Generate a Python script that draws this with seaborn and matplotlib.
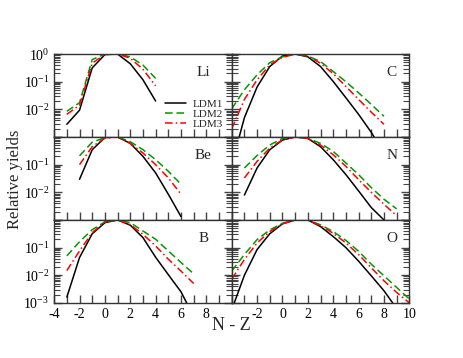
import numpy as np
import matplotlib
matplotlib.use('Agg')
import matplotlib.pyplot as plt
import seaborn as sns

# log10 of the relative yields
elements = ['Li', 'Be', 'B', 'C', 'N', 'O']

li_x = [-3, -2, -1, 0, 1, 2, 3, 4]
li_ldm1 = [-2.54, -2.03, -0.50, -0.02, 0.0, -0.35, -0.93, -1.70]
li_ldm2 = [-2.07, -1.76, -0.20, 0.0, 0.0, -0.10, -0.40, -0.88]
li_ldm3 = [-2.18, -1.85, -0.33, -0.01, 0.0, -0.15, -0.55, -1.15]

be_x = [-2, -1, 0, 1, 2, 3, 4, 5, 6]
be_ldm1 = [-1.53, -0.46, -0.02, 0.0, -0.23, -0.70, -1.30, -2.07, -2.88]
be_ldm2 = [-0.68, -0.19, -0.02, 0.0, -0.17, -0.46, -0.82, -1.24, -1.71]
be_ldm3 = [-1.00, -0.35, -0.04, 0.0, -0.23, -0.58, -1.00, -1.48, -2.07]

b_x = [-3, -2, -1, 0, 1, 2, 3, 4, 5, 6, 7]
b_ldm1 = [-2.79, -1.36, -0.50, -0.10, 0.0, -0.19, -0.64, -1.35, -1.98, -2.60, -3.50]
b_ldm2 = [-1.30, -0.79, -0.35, -0.07, 0.0, -0.10, -0.40, -0.70, -1.12, -1.54, -1.95]
b_ldm3 = [-1.83, -1.12, -0.46, -0.07, 0.0, -0.17, -0.52, -0.94, -1.42, -1.85, -2.30]

c_x = [-4, -3, -2, -1, 0, 1, 2, 3, 4, 5, 6, 7, 8]
c_ldm1 = [-4.0, -2.30, -1.19, -0.45, -0.07, 0.0, -0.10, -0.45, -0.99, -1.58, -2.18, -2.83, -3.60]
c_ldm2 = [-1.98, -1.29, -0.75, -0.31, -0.10, 0.0, -0.07, -0.27, -0.63, -1.00, -1.40, -1.82, -2.25]
c_ldm3 = [-2.70, -1.64, -0.93, -0.39, -0.12, 0.0, -0.07, -0.33, -0.71, -1.17, -1.64, -2.10, -2.54]

n_x = [-3, -2, -1, 0, 1, 2, 3, 4, 5, 6, 7, 8, 9]
n_ldm1 = [-2.10, -1.12, -0.46, -0.11, 0.0, -0.05, -0.35, -0.82, -1.36, -1.95, -2.55, -3.00, -3.70]
n_ldm2 = [-1.12, -0.67, -0.29, -0.05, 0.0, -0.05, -0.23, -0.52, -0.94, -1.36, -1.83, -2.25, -2.60]
n_ldm3 = [-1.48, -0.88, -0.40, -0.10, 0.0, -0.05, -0.29, -0.64, -1.06, -1.54, -2.00, -2.43, -2.85]

o_x = [-4, -3, -2, -1, 0, 1, 2, 3, 4, 5, 6, 7, 8, 9, 10]
o_ldm1 = [-3.25, -2.00, -1.07, -0.50, -0.14, 0.0, 0.0, -0.24, -0.60, -1.00, -1.49, -2.02, -2.56, -3.20, -3.90]
o_ldm2 = [-1.85, -1.25, -0.71, -0.36, -0.12, 0.0, 0.0, -0.18, -0.42, -0.74, -1.13, -1.60, -2.02, -2.44, -2.86]
o_ldm3 = [-2.14, -1.43, -0.83, -0.42, -0.14, 0.0, 0.0, -0.21, -0.48, -0.83, -1.25, -1.73, -2.20, -2.62, -3.00]

panel_data = {
    'Li': (li_x, li_ldm1, li_ldm2, li_ldm3),
    'Be': (be_x, be_ldm1, be_ldm2, be_ldm3),
    'B': (b_x, b_ldm1, b_ldm2, b_ldm3),
    'C': (c_x, c_ldm1, c_ldm2, c_ldm3),
    'N': (n_x, n_ldm1, n_ldm2, n_ldm3),
    'O': (o_x, o_ldm1, o_ldm2, o_ldm3),
}

sns.set_theme(style='ticks')
plt.rcParams['font.family'] = ['Liberation Serif', 'DejaVu Serif']
plt.rcParams['mathtext.fontset'] = 'custom'
plt.rcParams['mathtext.rm'] = 'Liberation Serif'
plt.rcParams['mathtext.it'] = 'Liberation Serif:italic'

styles = [('LDM1', 'black', '-'),
          ('LDM2', '#009900', (0, (5, 2.5))),
          ('LDM3', '#ff0000', (0, (5, 2, 1, 2)))]

fig, axes = plt.subplots(3, 2, figsize=(4.63, 3.58), dpi=100)
fig.subplots_adjust(left=0.117, right=0.884, top=0.849, bottom=0.154, wspace=0, hspace=0)

# panel order: left column Li, Be, B; right column C, N, O
layout = {'Li': (0, 0), 'Be': (1, 0), 'B': (2, 0), 'C': (0, 1), 'N': (1, 1), 'O': (2, 1)}

major_y = [1e-3, 1e-2, 1e-1, 1e0]
minor_y = [m * d for d in [1e-3, 1e-2, 1e-1] for m in range(2, 10)]

for el in elements:
    r, c = layout[el]
    ax = axes[r, c]
    ax.set_yscale('log')
    xs, l1, l2, l3 = panel_data[el]
    for (name, col, ls), vals in zip(styles, [l1, l2, l3]):
        sns.lineplot(x=xs, y=np.power(10.0, vals), ax=ax, color=col,
                     linestyle=ls, linewidth=1.1, label=name, legend=False)
    ax.set_xlabel('')
    ax.set_ylabel('')

    ax.set_yticks(major_y)
    ax.set_yticks(minor_y, minor=True)
    ax.set_yticklabels([], minor=True)
    if c == 0:
        labs = {0: ['', r'$10^{-2}$', r'$10^{-1}$', r'$10^{0}$'],
                1: ['', r'$10^{-2}$', r'$10^{-1}$', ''],
                2: [r'$10^{-3}$', r'$10^{-2}$', r'$10^{-1}$', '']}[r]
        ax.set_yticklabels(labs)
    else:
        ax.set_yticklabels([])

    ax.set_xticks([-4, -2, 0, 2, 4, 6, 8, 10])
    ax.set_xticks([-3, -1, 1, 3, 5, 7, 9], minor=True)
    if r == 2:
        if c == 0:
            ax.set_xticklabels(['-4', '-2', '0', '2', '4', '6', '8', ''])
        else:
            ax.set_xticklabels(['', '-2', '0', '2', '4', '6', '8', '10'])
    else:
        ax.set_xticklabels([])
    ax.set_xlim(-4, 10)
    ax.set_ylim(1e-3, 1e0)

    ax.tick_params(axis='both', which='both', direction='in', color='#444444',
                   labelcolor='black', labelsize=10, top=False, right=True, left=True,
                   bottom=True)
    ax.tick_params(axis='both', which='major', length=6, width=1.0)
    ax.tick_params(axis='y', which='minor', length=4, width=0.8)
    ax.tick_params(axis='x', which='minor', length=6, width=1.0)
    for sp in ax.spines.values():
        sp.set_color('#333333')
        sp.set_linewidth(1.0)

    xpos = 0.84 if c == 0 else 0.9
    ax.text(xpos, 0.78, el, transform=ax.transAxes, ha='center', va='center', fontsize=11)

leg = axes[0, 0].legend(loc='lower right', bbox_to_anchor=(0.99, 0.02), frameon=False,
                        fontsize=8, handlelength=1.9, labelspacing=0.0,
                        handletextpad=0.6, borderpad=0.1)

fig.text(0.5, 0.09, 'N - Z', ha='center', va='center', fontsize=13)
fig.text(0.032, 0.5, 'Relative yields', ha='center', va='center', rotation=90, fontsize=12)

fig.savefig('out.png', dpi=100)
